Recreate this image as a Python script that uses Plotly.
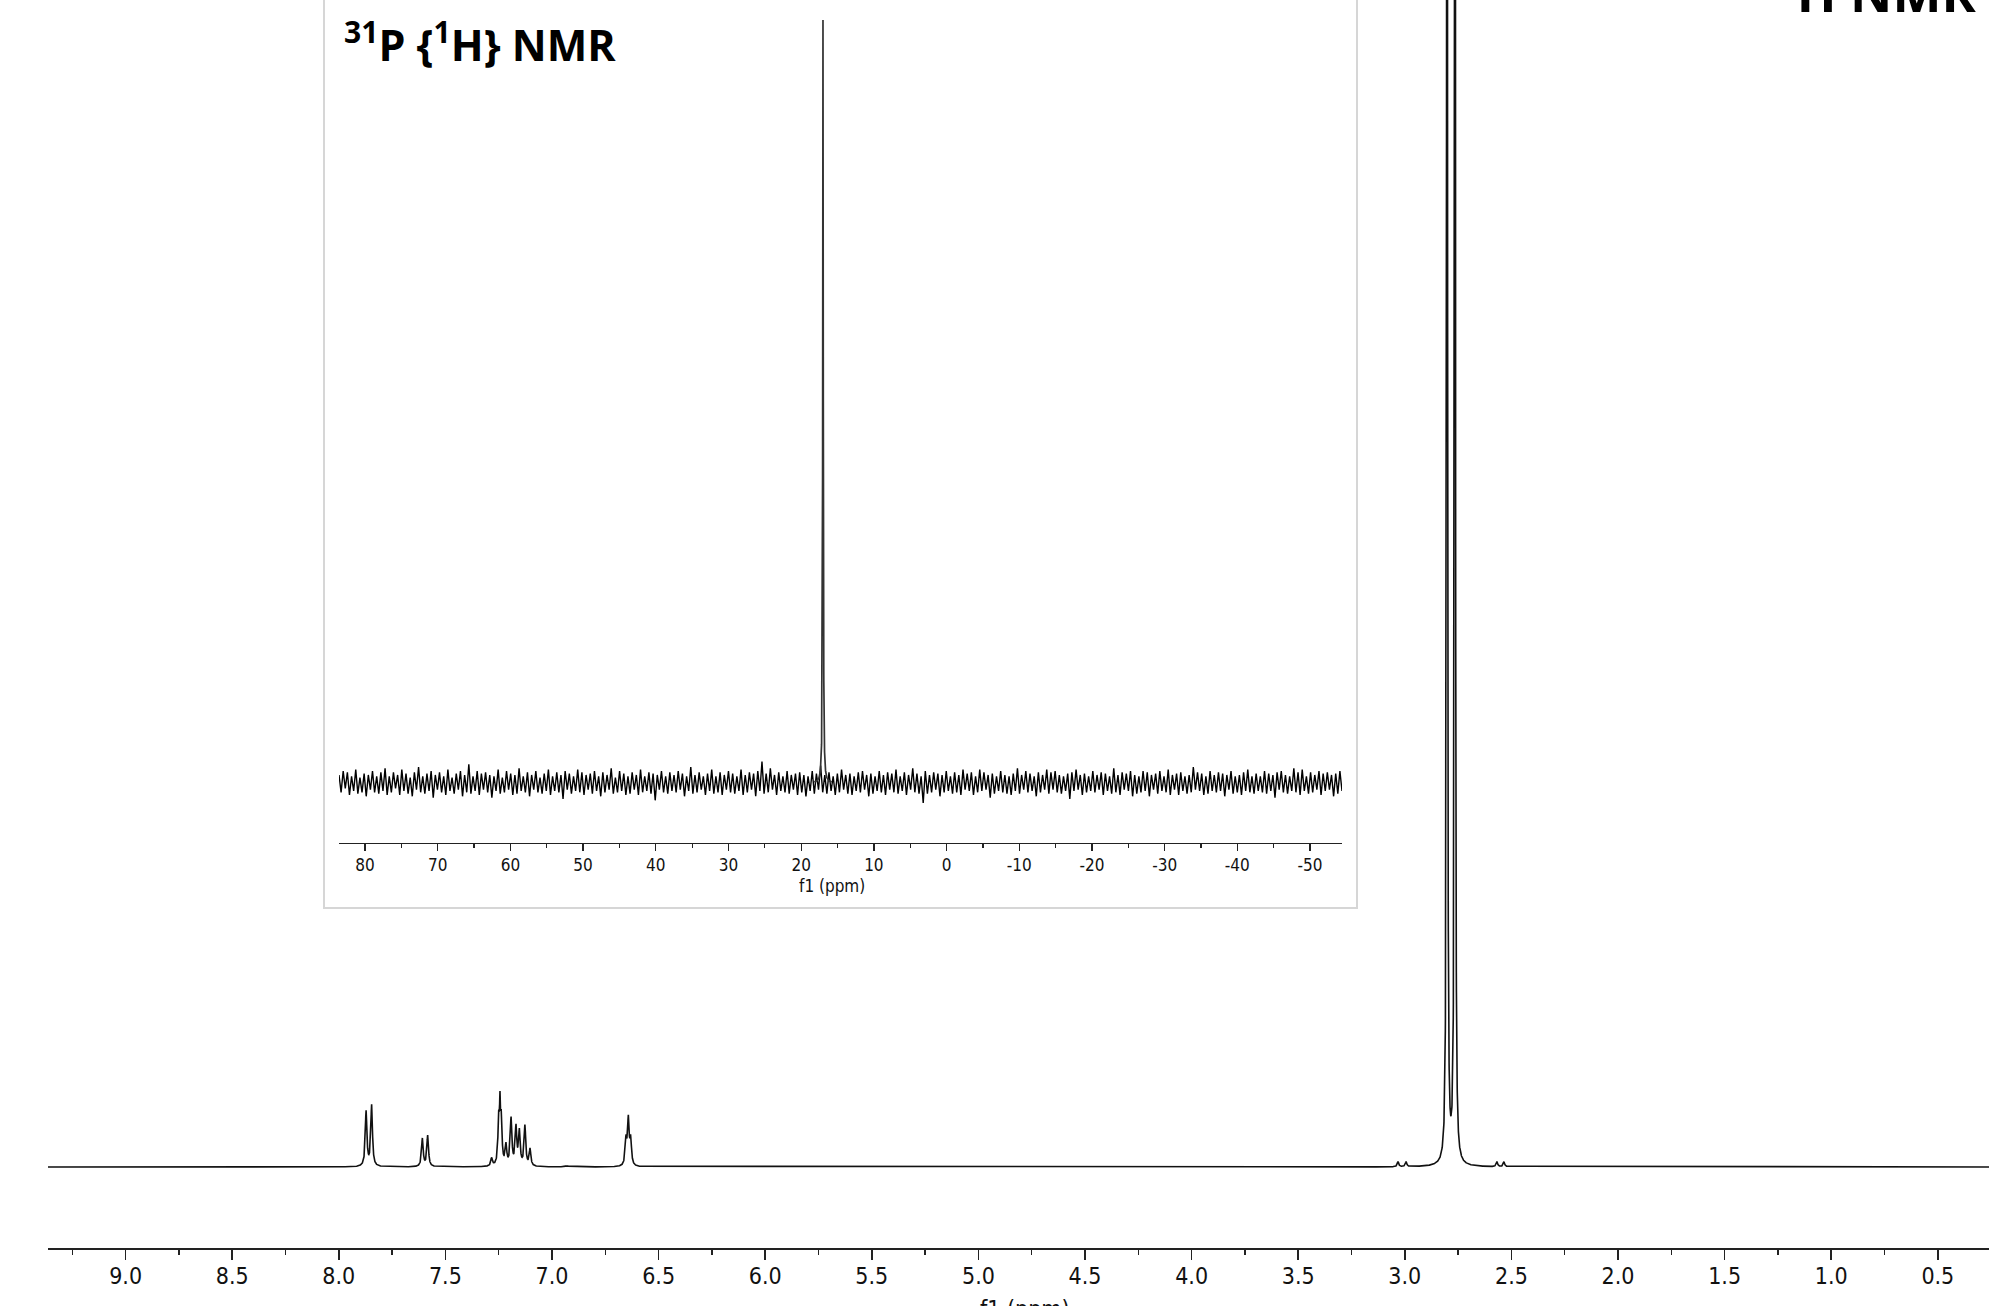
import numpy as np
import plotly.graph_objects as go

# ---------------- data ----------------
# 1H NMR peak list: chemical shift (ppm), peak height (display units above baseline), half-width (ppm)
H_PPM = [7.872, 7.846, 7.608, 7.583, 7.283, 7.250, 7.244, 7.238, 7.216, 7.192,
         7.169, 7.153, 7.127, 7.103, 6.930, 6.653, 6.642, 6.631,
         3.032, 2.994, 2.802, 2.765, 2.568, 2.535]
H_HEIGHT = [55, 61, 28, 31, 8, 45, 45, 45, 20, 47,
            38, 34, 40, 17, 1, 25, 45, 25,
            5, 5, 3265, 3265, 5, 5]
H_HALFWIDTH = [0.0045, 0.0045, 0.0045, 0.0045, 0.0045, 0.0042, 0.0023, 0.0042, 0.0045, 0.0045,
               0.0045, 0.0045, 0.0045, 0.0045, 0.0100, 0.0045, 0.0045, 0.0045,
               0.0040, 0.0040, 0.00164, 0.00164, 0.0040, 0.0040]

# 31P{1H} NMR peak list (intensity in arbitrary units)
P_PPM = [17.0]
P_HEIGHT = [572]
P_HALFWIDTH = [0.045]

# 31P baseline noise samples (same units), read across the inset from 83.6 to -54.4 ppm
P_NOISE = [
    6, -7, 9, -4, 8, -9, 5, -6, 10, -8, 4, -7, 7, -10, 6, -5, 9, -7, 5, -8,
    8, -6, 11, -9, 5, -7, 8, -4, 6, -9, 10, -6, 7, -8, 4, -10, 8, -5, 12, -7,
    5, -8, 7, -6, 9, -11, 6, -5, 8, -7, 5, -9, 10, -6, 4, -8, 7, -5, 9, -10,
    6, -7, 14, -8, 5, -6, 9, -9, 7, -5, 8, -7, 6, -11, 5, -6, 10, -8, 4, -7,
    9, -5, 7, -9, 6, -8, 11, -6, 5, -7, 8, -10, 6, -5, 9, -7, 4, -8, 7, -6,
    10, -9, 5, -6, 8, -7, 6, -12, 9, -5, 7, -8, 5, -6, 10, -7, 8, -9, 6, -5,
    7, -8, 9, -6, 5, -10, 8, -7, 6, -5, 11, -8, 4, -7, 9, -6, 7, -9, 5, -8,
    8, -5, 6, -9, 10, -7, 5, -6, 8, -8, 7, -13, 6, -5, 9, -7, 5, -8, 8, -6,
    6, -7, 9, -5, 7, -10, 5, -6, 12, -8, 6, -7, 8, -5, 5, -9, 7, -6, 10, -8,
    5, -7, 8, -9, 6, -5, 9, -7, 7, -8, 5, -6, 10, -9, 6, -7, 8, -5, 7, -10,
    9, -6, 16, -8, 7, -7, 11, -5, 6, -9, 8, -6, 5, -7, 9, -8, 6, -5, 7, -9,
    8, -7, 6, -10, 5, -6, 9, -8, 7, -5, 13, -7, 6, -8, 8, -6, 5, -9, 7, -7,
    10, -5, 6, -8, 7, -9, 5, -6, 8, -7, 9, -5, 6, -10, 7, -8, 5, -6, 9, -7,
    6, -9, 8, -5, 7, -7, 10, -8, 5, -6, 8, -9, 6, -5, 11, -7, 7, -8, 5, -15,
    9, -8, 6, -7, 8, -5, 7, -10, 6, -7, 9, -6, 5, -8, 8, -7, 6, -9, 10, -5,
    7, -6, 8, -9, 5, -7, 10, -6, 8, -5, 6, -11, 7, -8, 5, -6, 9, -7, 6, -8,
    5, -9, 7, -6, 11, -8, 6, -5, 9, -7, 7, -6, 5, -10, 8, -7, 6, -5, 10, -8,
    8, -5, 9, -7, 6, -8, 5, -6, 7, -12, 8, -6, 10, -5, 6, -9, 7, -7, 5, -6,
    9, -7, 6, -5, 8, -9, 7, -6, 5, -8, 11, -7, 6, -9, 8, -5, 7, -6, 9, -10,
    6, -8, 5, -7, 9, -6, 8, -10, 6, -5, 7, -8, 9, -6, 5, -7, 10, -9, 6, -5,
    7, -9, 8, -6, 5, -8, 6, -7, 12, -5, 8, -6, 7, -9, 5, -8, 9, -6, 6, -7,
    8, -6, 7, -10, 6, -5, 9, -8, 5, -7, 6, -9, 8, -6, 10, -7, 5, -8, 7, -6,
    5, -7, 9, -8, 7, -6, 6, -11, 8, -5, 9, -7, 6, -8, 5, -6, 11, -7, 8, -9,
    10, -6, 5, -8, 8, -7, 6, -5, 9, -9, 7, -6, 8, -5, 6, -10, 7, -8, 9, -6,
]

H_TICKS = [9.0, 8.5, 8.0, 7.5, 7.0, 6.5, 6.0, 5.5, 5.0, 4.5, 4.0, 3.5, 3.0, 2.5, 2.0, 1.5, 1.0, 0.5]
P_TICKS = [80, 70, 60, 50, 40, 30, 20, 10, 0, -10, -20, -30, -40, -50]

MAIN_TITLE = "<b><sup>1</sup>H NMR</b>"
INSET_TITLE = "<b><sup>31</sup>P {<sup>1</sup>H} NMR</b>"
AXIS_TITLE = "f1 (ppm)"

# ---------------- geometry (pixels) ----------------
W, H = 1989, 1306
ML, MB = 48, 58
PW, PH = W - ML, H - MB


def px_x(px):
    return (px - ML) / PW


def px_y(py):
    return (H - MB - py) / PH


def lorentz(x, centers, heights, widths):
    y = np.zeros_like(x)
    for c, h, w in zip(centers, heights, widths):
        y += h * w * w / ((x - c) ** 2 + w * w)
    return y


H_RANGE = [9.364, 0.260]
P_RANGE = [83.58, -54.40]

x_h = np.arange(H_RANGE[1] - 0.05, H_RANGE[0] + 0.05, 0.0004)
y_h = lorentz(x_h, H_PPM, H_HEIGHT, H_HALFWIDTH)

x_noise = np.linspace(P_RANGE[0], P_RANGE[1], len(P_NOISE))
x_peak = np.arange(P_PPM[0] - 1.2, P_PPM[0] + 1.2, 0.005)
y_peak = lorentz(x_peak, P_PPM, P_HEIGHT, P_HALFWIDTH)

fig = go.Figure()
fig.add_trace(go.Scatter(x=x_h, y=y_h, mode="lines",
                         line=dict(color="#111111", width=1.6),
                         xaxis="x", yaxis="y", hoverinfo="skip"))
fig.add_trace(go.Scatter(x=x_noise, y=P_NOISE, mode="lines",
                         line=dict(color="#000000", width=1.4),
                         xaxis="x2", yaxis="y2", hoverinfo="skip"))
fig.add_trace(go.Scatter(x=x_peak, y=y_peak, mode="lines",
                         line=dict(color="#333333", width=1.7),
                         xaxis="x2", yaxis="y2", hoverinfo="skip"))

tick_font_main = dict(family="DejaVu Sans Condensed, Liberation Sans Narrow, sans-serif", size=23, color="#111111")
tick_font_inset = dict(family="DejaVu Sans Condensed, Liberation Sans Narrow, sans-serif", size=17, color="#111111")
title_font = dict(family="Open Sans, Lato, sans-serif", size=43, color="#000000")

fig.update_layout(
    width=W, height=H,
    margin=dict(l=ML, r=0, t=0, b=MB, pad=0),
    paper_bgcolor="white", plot_bgcolor="rgba(0,0,0,0)",
    showlegend=False,
    xaxis=dict(domain=[0, 1], range=H_RANGE, showgrid=False, zeroline=False,
               showline=True, linecolor="#222222", linewidth=1.6,
               ticks="outside", ticklen=10, tickwidth=1.6, tickcolor="#222222",
               tickvals=H_TICKS, ticktext=[f"{v:.1f}" for v in H_TICKS],
               tickfont=tick_font_main, ticklabelstandoff=-3,
               minor=dict(dtick=0.25, tick0=0, ticks="outside", ticklen=5,
                          tickwidth=1.4, tickcolor="#222222", showgrid=False)),
    yaxis=dict(domain=[0, 1], range=[-81, 1167], visible=False, fixedrange=True),
    xaxis2=dict(domain=[px_x(339), px_x(1342)], anchor="y2", range=P_RANGE,
                showgrid=False, zeroline=False,
                showline=True, linecolor="#222222", linewidth=1.3,
                ticks="outside", ticklen=7, tickwidth=1.3, tickcolor="#222222",
                tickvals=P_TICKS, ticktext=[str(v) for v in P_TICKS],
                tickfont=tick_font_inset, ticklabelstandoff=-1,
                minor=dict(dtick=5, tick0=0, ticks="outside", ticklen=4,
                           tickwidth=1.2, tickcolor="#222222", showgrid=False)),
    yaxis2=dict(domain=[px_y(843), 1], anchor="x2", range=[-45, 587],
                visible=False, fixedrange=True),
    shapes=[dict(type="rect", xref="paper", yref="paper", layer="below",
                 x0=px_x(324), x1=px_x(1357), y0=px_y(908), y1=px_y(-20),
                 line=dict(color="#d6d6d6", width=2), fillcolor="white")],
    annotations=[
        dict(text=INSET_TITLE, xref="paper", yref="paper", x=px_x(342), y=px_y(76),
             xanchor="left", yanchor="bottom", showarrow=False, font=title_font),
        dict(text=MAIN_TITLE, xref="paper", yref="paper", x=px_x(1978), y=px_y(29),
             xanchor="right", yanchor="bottom", showarrow=False,
             font=dict(family="Open Sans, Lato, sans-serif", size=52, color="#000000")),
        dict(text=AXIS_TITLE, xref="paper", yref="paper", x=px_x(832), y=px_y(886),
             xanchor="center", yanchor="middle", showarrow=False,
             font=dict(family="DejaVu Sans Condensed, Liberation Sans Narrow, sans-serif", size=17, color="#111111")),
        dict(text=AXIS_TITLE, xref="paper", yref="paper", x=px_x(1025), y=px_y(1294),
             xanchor="center", yanchor="top", showarrow=False,
             font=dict(family="DejaVu Sans Condensed, Liberation Sans Narrow, sans-serif", size=23, color="#111111")),
    ],
)

fig.write_html("out.html", config={"displayModeBar": False, "staticPlot": True},
               post_script="document.body.style.margin='0';document.body.style.overflow='hidden';")
